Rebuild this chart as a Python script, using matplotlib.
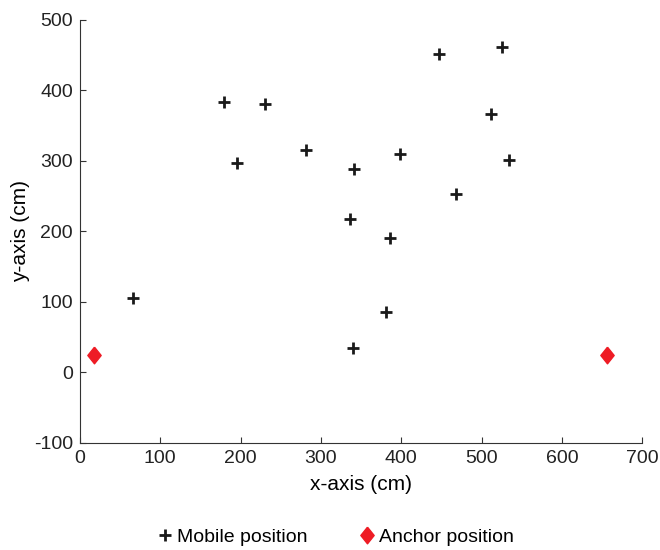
import matplotlib

matplotlib.use("Agg")
import matplotlib.pyplot as plt

# mobile positions (cm)
MOBILE_X = [179, 230, 195, 282, 341, 398, 336, 386, 447, 526, 512, 534, 468, 381, 340, 66]
MOBILE_Y = [383, 380, 297, 315, 289, 310, 218, 191, 451, 461, 366, 301, 253, 86, 34, 105]
# anchor positions (cm)
ANCHOR_X = [17, 656]
ANCHOR_Y = [25, 25]

# diamond a bit taller than wide, like the MATLAB one
DIAMOND = [(0, 1), (0.8, 0), (0, -1), (-0.8, 0), (0, 1)]

plt.rcParams.update({
    "font.family": ["Liberation Sans", "DejaVu Sans"],
    "font.size": 14,
    "axes.unicode_minus": False,
    "xtick.direction": "in",
    "ytick.direction": "in",
})

fig = plt.figure(figsize=(6.6, 5.5), dpi=100)
ax = fig.add_axes([0.121, 0.195, 0.852, 0.769])

ax.plot(MOBILE_X, MOBILE_Y, "+", color="#1a1a1a", markersize=8, markeredgewidth=2,
        label="Mobile position", linestyle="none")
ax.plot(ANCHOR_X, ANCHOR_Y, marker=DIAMOND, color="#ee1c25", markersize=12,
        label="Anchor position", linestyle="none")

ax.set_xlim(0, 700)
ax.set_ylim(-100, 500)
ax.set_xticks(range(0, 701, 100))
ax.set_yticks(range(-100, 501, 100))
ax.spines["top"].set_visible(False)
ax.spines["right"].set_visible(False)
for s in ("left", "bottom"):
    ax.spines[s].set_color("#333333")
ax.tick_params(colors="#333333", labelcolor="#222222", length=4, labelsize=14, pad=5)
ax.set_xlabel("x-axis (cm)", fontsize=15, labelpad=6)
ax.set_ylabel("y-axis (cm)", fontsize=15, labelpad=3)

fig.legend(loc="lower center", ncol=2, frameon=False, bbox_to_anchor=(0.51, -0.025),
           handlelength=0.6, handletextpad=0.3, columnspacing=2.8, fontsize=14)

fig.savefig("out.png", dpi=100)
